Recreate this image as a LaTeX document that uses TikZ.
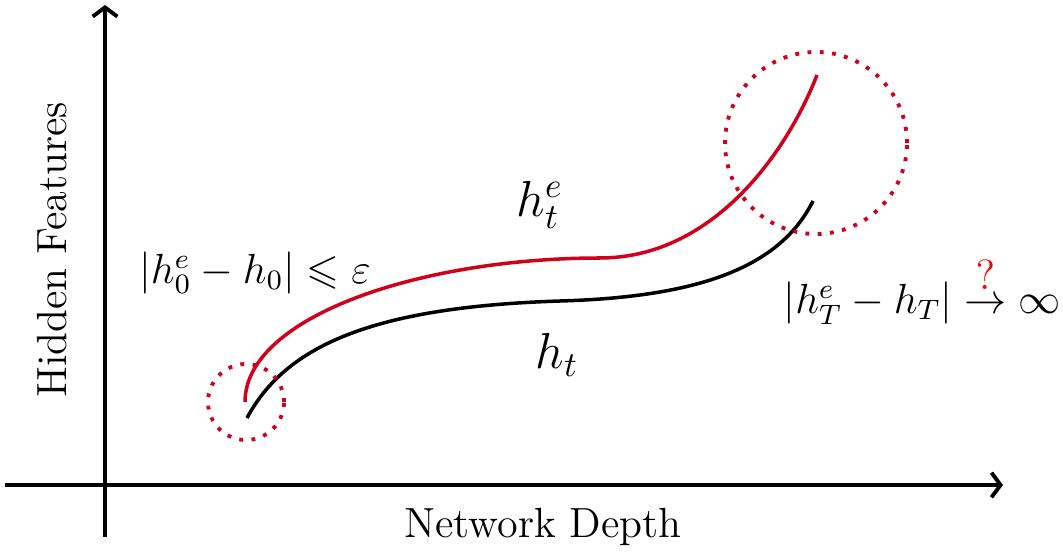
\documentclass[tikz,border=0pt]{standalone}
\usepackage{amssymb}
\usetikzlibrary{arrows.meta}
\definecolor{curvered}{RGB}{208,2,27}
\tikzset{
  axis/.style={line width=1.1pt,-{Straight Barb[length=2.6pt,width=7pt]}},
  feat/.style={line width=1pt},
  ring/.style={curvered,line width=1.1pt,dash pattern=on 1.1pt off 2.4pt}
}
\begin{document}
\begin{tikzpicture}[font=\large]
\useasboundingbox (0,0) rectangle (10.63,5.57);
% axes
\draw[axis] (0.05,0.72) -- (10.03,0.72);
\draw[axis] (1.05,0.20) -- (1.05,5.52);
\node[rotate=90] (ylab) at (0.52,3.07) {Hidden Features};
\node (xlab) at (5.43,0.30) {Network Depth};

% feature trajectories
\draw[feat,curvered] (2.45,1.55) .. controls (2.45,2.4) and (4.2,2.99) .. (6.0,2.99)
  .. controls (7.1,2.99) and (7.85,4.0) .. (8.17,4.82);
\draw[feat] (2.47,1.39) .. controls (2.85,2.1) and (3.7,2.5) .. (5.6,2.56)
  .. controls (7.0,2.6) and (7.8,2.9) .. (8.13,3.56);
\node (he) at (5.40,3.52) {\Large $h_t^e$};
\node (h) at (5.57,2.02) {\Large $h_t$};

% start and end regions
\draw[ring] (2.46,1.55) circle (0.38);
\draw[ring] (8.16,4.14) circle (0.91);
\node (start) at (2.55,2.84) {\large $|h_0^e-h_0|\leqslant\varepsilon$};
\node (end) at (9.22,2.67) {\large $|h_T^e-h_T|\stackrel{\textcolor{red}{\textstyle ?}}{\to}\infty$};
\end{tikzpicture}
\end{document}
